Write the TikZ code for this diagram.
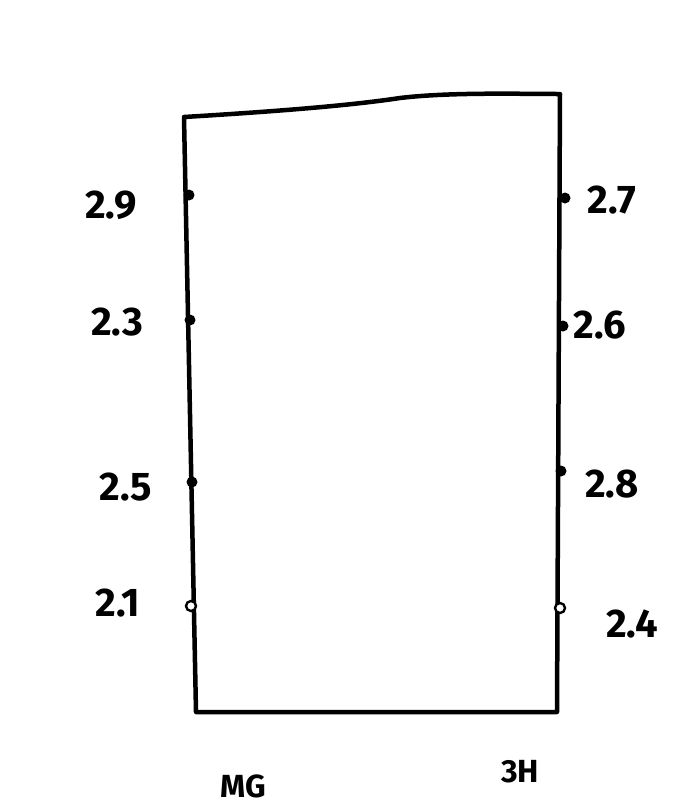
\documentclass[tikz,border=0pt]{standalone}
\usepackage{fontspec}
\setmainfont{Fira Sans}
\begin{document}
\begin{tikzpicture}[x=1pt,y=-1pt,
  edge/.style={line width=4.5pt,line join=round,line cap=round},
  pinfull/.style={circle,fill=black,inner sep=0pt,minimum size=11pt},
  pinopen/.style={circle,draw=black,line width=2.4pt,fill=white,inner sep=0pt,minimum size=10pt},
  lbl/.style={font=\fontsize{40}{44}\selectfont\bfseries,inner sep=0pt},
  tagtext/.style={font=\fontsize{32}{36}\selectfont\bfseries,inner sep=0pt}]
\useasboundingbox (0,0) rectangle (680,807);
\coordinate (tl) at (184,117);
\coordinate (tr) at (560,94);
\coordinate (br) at (557,712);
\coordinate (bl) at (196,712);
\draw[edge] (tl) .. controls (300,110) and (360,104) .. (400,98) .. controls (450,92) and (520,94) .. (tr)
  -- (br) -- (bl) -- (tl);
% left pins
\node[pinfull] (p29) at (189,195) {};
\node[pinfull] (p23) at (190,320) {};
\node[pinfull] (p25) at (192,482) {};
\node[pinopen] (p21) at (191,606) {};
% right pins
\node[pinfull] (p27) at (565,198) {};
\node[pinfull] (p26) at (563,326) {};
\node[pinfull] (p28) at (561,471) {};
\node[pinopen] (p24) at (560,608) {};
% labels
\node[lbl] (l29) at (111,205) {2.9};
\node[lbl] (l23) at (117,322) {2.3};
\node[lbl] (l25) at (126,487) {2.5};
\node[lbl] (l21) at (118,603) {2.1};
\node[lbl] (l27) at (612,200) {2.7};
\node[lbl] (l26) at (600,325) {2.6};
\node[lbl] (l28) at (612,484) {2.8};
\node[lbl] (l24) at (632,624) {2.4};
\node[tagtext] (mg) at (243,786) {MG};
\node[tagtext] (bh) at (520,772) {3H};
\end{tikzpicture}
\end{document}
